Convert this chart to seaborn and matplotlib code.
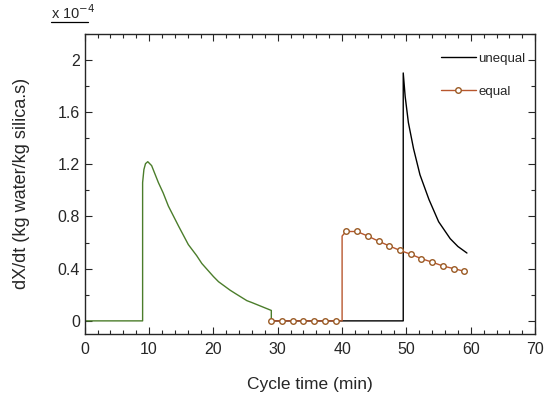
import seaborn as sns
import matplotlib.pyplot as plt
from matplotlib.ticker import MultipleLocator, FuncFormatter
from matplotlib.lines import Line2D

# values in units of 1e-4 kg water/kg silica.s
green_x = [0, 9.0, 9.0, 9.2, 9.45, 9.8, 10.4, 11.45, 12.2, 13.0, 14.6, 16.1, 17.4,
           18.2, 20.0, 20.8, 22.6, 23.4, 25.2, 26.0, 29.0, 29.0]
green_y = [0, 0, 1.06, 1.16, 1.205, 1.22, 1.19, 1.06, 0.98, 0.88, 0.725, 0.585, 0.50,
           0.44, 0.34, 0.30, 0.235, 0.21, 0.155, 0.14, 0.08, 0]

unequal_x = [29.0, 49.5, 49.5, 49.8, 50.3, 51.1, 52.1, 53.5, 55.0, 56.8, 58.0, 59.4]
unequal_y = [0, 0, 1.90, 1.72, 1.52, 1.32, 1.12, 0.93, 0.76, 0.63, 0.57, 0.52]

equal_x = [29.0, 30.6, 32.3, 34.0, 35.7, 37.3, 39.0, 40.0, 40.0, 40.6, 42.3, 44.0, 45.7,
           47.3, 49.0, 50.7, 52.3, 54.0, 55.7, 57.4, 59.0]
equal_y = [0, 0, 0, 0, 0, 0, 0, 0, 0.65, 0.685, 0.685, 0.65, 0.61,
           0.575, 0.54, 0.51, 0.477, 0.45, 0.42, 0.40, 0.38]
equal_marks = [0, 1, 2, 3, 4, 5, 6, 9, 10, 11, 12, 13, 14, 15, 16, 17, 18, 19, 20]

sns.set_style('ticks')
plt.rcParams['font.family'] = ['Liberation Sans', 'DejaVu Sans']

fig = plt.figure(figsize=(5.5, 3.98), dpi=100)
ax = fig.add_axes([0.154, 0.161, 0.819, 0.754])

sns.lineplot(x=unequal_x, y=unequal_y, sort=False, estimator=None, color='black',
             lw=1.0, ax=ax, label='unequal')
sns.lineplot(x=green_x, y=green_y, sort=False, estimator=None, color='#4b7d2b',
             lw=1.0, ax=ax)
sns.lineplot(x=equal_x, y=equal_y, sort=False, estimator=None, color='#b8572e',
             lw=1.0, marker='o', markersize=4, markerfacecolor='white',
             markeredgecolor='#9a5a24', markeredgewidth=1.0, markevery=equal_marks,
             ax=ax, label='equal')

ax.set_xlim(0, 70)
ax.set_ylim(-0.1, 2.2)
ax.xaxis.set_major_locator(MultipleLocator(10))
ax.xaxis.set_minor_locator(MultipleLocator(2))
ax.yaxis.set_major_locator(MultipleLocator(0.4))
ax.yaxis.set_minor_locator(MultipleLocator(0.2))
ax.yaxis.set_major_formatter(FuncFormatter(lambda v, p: '{:g}'.format(round(v, 2))))
ax.tick_params(which='both', direction='in', top=True, right=True, labelsize=11.5, width=0.8)
ax.tick_params(axis='x', pad=6)
ax.tick_params(which='major', length=5)
ax.tick_params(which='minor', length=3)
for s in ax.spines.values():
    s.set_linewidth(1.0)

ax.set_xlabel('Cycle time (min)', fontsize=12.5, labelpad=14)
ax.set_ylabel('dX/dt (kg water/kg silica.s)', fontsize=13, labelpad=20)

leg = ax.legend(loc='upper right', bbox_to_anchor=(0.99, 0.955), frameon=False,
                fontsize=9.5, handlelength=2.6, labelspacing=1.55, handletextpad=0.2,
                borderaxespad=0)

fig.text(0.092, 0.968, 'x 10$^{-4}$', fontsize=10.5, va='center')
fig.add_artist(Line2D([0.092, 0.16], [0.944, 0.944], color='black', lw=0.9))

plt.savefig('out.png', dpi=100)
plt.close()
